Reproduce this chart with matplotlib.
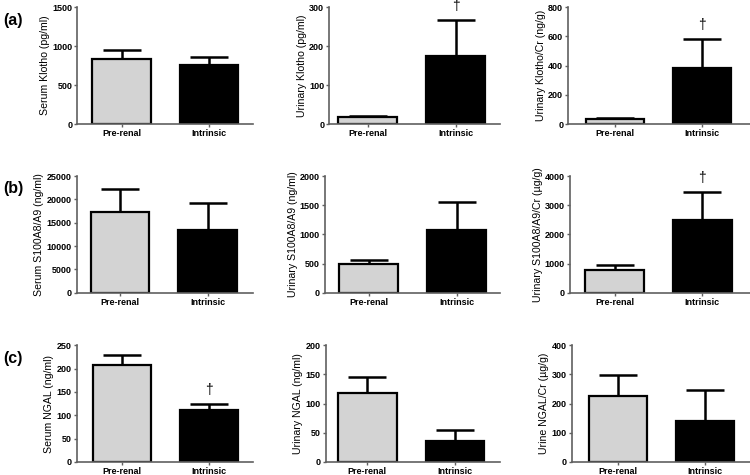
import matplotlib
matplotlib.use("Agg")
import matplotlib.pyplot as plt

plt.rcParams['font.family'] = ['Liberation Sans', 'DejaVu Sans']

groups = ["Pre-renal", "Intrinsic"]

ylabels = [
    "Serum Klotho (pg/ml)", "Urinary Klotho (pg/ml)", "Urinary Klotho/Cr (ng/g)",
    "Serum S100A8/A9 (ng/ml)", "Urinary S100A8/A9 (ng/ml)", "Urinary S100A8/A9/Cr (µg/g)",
    "Serum NGAL (ng/ml)", "Urinary NGAL (ng/ml)", "Urine NGAL/Cr (µg/g)",
]

means = [
    [836, 759], [17, 175], [34, 386],
    [17240, 13360], [491, 1074], [777, 2480],
    [207, 111], [117.5, 36], [226, 141],
]
upper = [
    [951, 866], [20, 267], [43, 585],
    [22270, 19320], [554, 1549], [960, 3451],
    [229, 124], [145.6, 55], [297, 245],
]
ymax = [1500, 300, 800, 25000, 2000, 4000, 250, 200, 400]
ystep = [500, 100, 200, 5000, 500, 1000, 50, 50, 100]
dagger = [
    [False, False], [False, True], [False, True],
    [False, False], [False, False], [False, True],
    [False, True], [False, False], [False, False],
]
row_labels = ["(a)", "(b)", "(c)"]

# layout in pixels (figure 750 x 475)
W, H = 750, 475
row_top = [7.3, 176.0, 345.3]
row_bot = [124.0, 292.7, 461.8]
ax_left = [[77.3, 329.3, 568.3], [76.7, 325.0, 570.0], [76.7, 325.7, 571.7]]
ax_right = [253, 500, 752]
bar_c = [
    [(121.5, 209.0), (367.7, 455.5), (614.8, 702.0)],
    [(120.0, 207.8), (368.5, 456.5), (614.8, 702.3)],
    [(122.3, 209.3), (367.3, 455.0), (617.8, 705.0)],
]

fig = plt.figure(figsize=(7.5, 4.75), dpi=100)
spine_col = "#606060"

for i in range(9):
    r, c = divmod(i, 3)
    left = ax_left[r][c]
    right = ax_right[c]
    c0, c1 = bar_c[r][c]
    s = c1 - c0
    ax = fig.add_axes([left / W, 1 - row_bot[r] / H, (right - left) / W,
                       (row_bot[r] - row_top[r]) / H])
    ax.set_xlim(-(c0 - left) / s, 1 + (right - c1) / s)
    ax.set_ylim(0, ymax[i])
    x = [0, 1]
    err = [[0, 0], [upper[i][0] - means[i][0], upper[i][1] - means[i][1]]]
    ax.errorbar(x, means[i], yerr=err, fmt="none", ecolor="black",
                elinewidth=1.8, capsize=14, capthick=1.8, zorder=1)
    ax.bar(x, means[i], width=0.67, color=["#d3d3d3", "black"],
           edgecolor="black", linewidth=1.6, zorder=2)
    for j in range(2):
        if dagger[i][j]:
            ax.annotate("†", xy=(j, upper[i][j]), xytext=(0, 10),
                        textcoords="offset points", ha="center", va="center",
                        fontsize=10, annotation_clip=False)
    ax.set_xticks(x)
    ax.set_xticklabels(groups, fontsize=6.5, fontweight="bold")
    ticks = list(range(0, ymax[i] + 1, ystep[i]))
    ax.set_yticks(ticks)
    ax.set_yticklabels([str(t) for t in ticks], fontsize=6.5, fontweight="bold")
    ax.set_ylabel(ylabels[i], fontsize=7.6, labelpad=1.5)
    for sp in ["top", "right"]:
        ax.spines[sp].set_visible(False)
    for sp in ["left", "bottom"]:
        ax.spines[sp].set_color(spine_col)
        ax.spines[sp].set_linewidth(1.2)
    ax.tick_params(axis="both", colors=spine_col, labelcolor="black",
                   width=1.0, length=2.5, pad=1.2)
    if c == 0:
        fig.text(3 / W, 1 - (row_top[r] + 13) / H, row_labels[r],
                 fontsize=11.5, fontweight="bold", va="center", ha="left")

fig.savefig("out.png", dpi=100)
